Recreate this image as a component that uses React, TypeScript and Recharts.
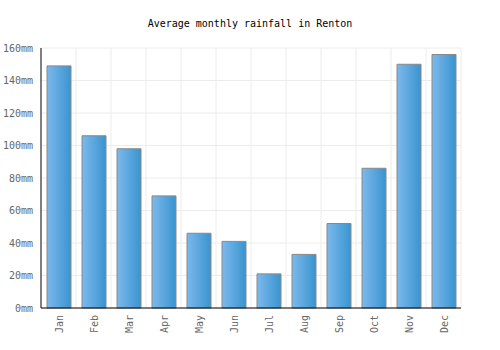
import React from "react";
import { BarChart, Bar, XAxis, YAxis, CartesianGrid } from "recharts";

const months = ["Jan", "Feb", "Mar", "Apr", "May", "Jun", "Jul", "Aug", "Sep", "Oct", "Nov", "Dec"];
const rainfall = [149, 106, 98, 69, 46, 41, 21, 33, 52, 86, 150, 156];
const yTicks = [0, 20, 40, 60, 80, 100, 120, 140, 160];
const title = "Average monthly rainfall in Renton";

const data = months.map((m, i) => ({ month: m, rain: rainfall[i] }));
const FONT = "'DejaVu Sans Mono', monospace";

const XTick = (props: any) => {
  const { x, payload } = props;
  const axisY = 308;
  return (
    <text
      x={0}
      y={0}
      transform={`translate(${x + 4},${axisY + 7}) rotate(-90)`}
      textAnchor="end"
      fontFamily={FONT}
      fontSize={10}
      fill="#666"
    >
      {payload.value}
    </text>
  );
};

export default function App() {
  return (
    <div style={{ position: "absolute", left: 0, top: 0, width: 500, height: 350, background: "#fff" }}>
      <BarChart
        width={500}
        height={350}
        data={data}
        margin={{ top: 48, right: 39, bottom: 0, left: 0 }}
        barSize={24}
      >
        <defs>
          <linearGradient id="barGrad" x1="0" y1="0" x2="1" y2="0">
            <stop offset="0%" stopColor="#7cb9ec" />
            <stop offset="100%" stopColor="#3994cf" />
          </linearGradient>
        </defs>
        <text x={250} y={27} textAnchor="middle" fontFamily={FONT} fontSize={10} fill="#000">
          {title}
        </text>
        <CartesianGrid
          stroke="#ececec"
          verticalCoordinatesGenerator={({ offset }: any) =>
            months.map((_, i) => offset.left + ((i + 1) * offset.width) / months.length)
          }
        />
        <XAxis
          dataKey="month"
          height={42}
          tickLine={false}
          axisLine={{ stroke: "#000" }}
          tick={<XTick />}
          interval={0}
        />
        <YAxis
          width={41}
          domain={[0, 160]}
          ticks={yTicks}
          tickLine={false}
          axisLine={{ stroke: "#000" }}
          tickMargin={2}
          tickFormatter={(v: number) => `${v}mm`}
          tick={{ fontFamily: FONT, fontSize: 10, fill: "#666" }}
        />
        <Bar dataKey="rain" fill="url(#barGrad)" stroke="#888" strokeWidth={1} isAnimationActive={false} />
      </BarChart>
    </div>
  );
}
